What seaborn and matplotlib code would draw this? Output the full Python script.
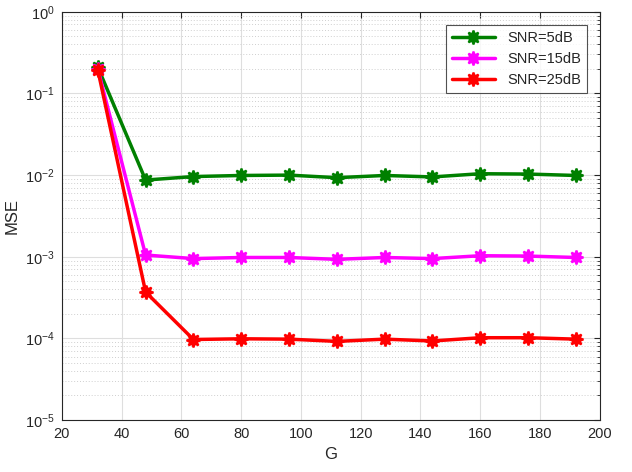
import numpy as np
import matplotlib
matplotlib.use('Agg')
import matplotlib.pyplot as plt
import seaborn as sns
from matplotlib.ticker import LogLocator, NullFormatter

sns.set_style('white')
plt.rcParams['font.family'] = ['Liberation Sans', 'DejaVu Sans']

# Data
G = [32, 48, 64, 80, 96, 112, 128, 144, 160, 176, 192]
mse_5db = [0.21, 0.0087, 0.0096, 0.0099, 0.0100, 0.0093, 0.0099, 0.0095, 0.0104, 0.0103, 0.0099]
mse_15db = [0.20, 0.00105, 0.00095, 0.00098, 0.00098, 0.00093, 0.00098, 0.00095, 0.00103, 0.00102, 0.00098]
mse_25db = [0.195, 0.00037, 0.000097, 0.000099, 0.000098, 0.000092, 0.000098, 0.000093, 0.000102, 0.000102, 0.000098]
labels = ['SNR=5dB', 'SNR=15dB', 'SNR=25dB']
colors = ['#008000', '#ff00ff', '#ff0000']

fig = plt.figure(figsize=(6.32, 4.72), dpi=100)
ax = fig.add_axes([0.098, 0.110, 0.851, 0.865])

for vals, lab, c in zip([mse_5db, mse_15db, mse_25db], labels, colors):
    sns.lineplot(x=G, y=vals, color=c, label=lab, ax=ax,
                 marker=(8, 1, 0), markersize=10, markeredgecolor=c,
                 markerfacecolor=c, markeredgewidth=1.5, linewidth=2.5)

ax.set_yscale('log')
ax.set_xlim(20, 200)
ax.set_ylim(1e-5, 1)
ax.set_xticks(range(20, 201, 20))
ax.yaxis.set_major_locator(LogLocator(base=10, numticks=10))
ax.yaxis.set_minor_locator(LogLocator(base=10, subs=np.arange(2, 10), numticks=20))
ax.yaxis.set_minor_formatter(NullFormatter())

ax.grid(True, which='major', color='#dedede', linewidth=0.8)
ax.grid(True, which='minor', axis='y', color='#cfcfcf', linestyle=(0, (1, 2)), linewidth=0.7)
ax.set_axisbelow(True)

for s in ax.spines.values():
    s.set_color('#262626')
    s.set_linewidth(0.8)
ax.tick_params(axis='both', which='major', direction='in', length=4, labelsize=10.5,
               colors='#262626', top=True, right=True, pad=5)
ax.tick_params(axis='y', which='minor', direction='in', length=2, right=True)

ax.set_xlabel('G', fontsize=12, color='#262626', labelpad=4)
ax.set_ylabel('MSE', fontsize=12, color='#262626')

leg = ax.legend(loc='upper right', fontsize=10.5, frameon=True, fancybox=False,
                edgecolor='#262626', borderaxespad=0.9, handlelength=3)
leg.get_frame().set_linewidth(0.8)

fig.savefig('out.png', dpi=100)
